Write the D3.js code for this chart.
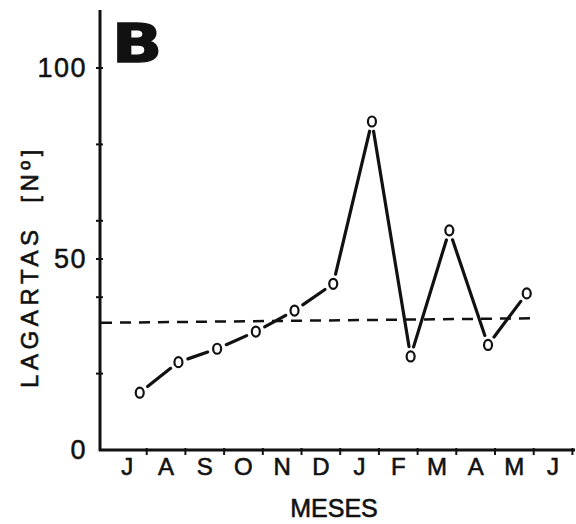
<!DOCTYPE html>
<html><head><meta charset="utf-8">
<script src="https://cdn.jsdelivr.net/npm/d3@7"></script>
<style>
html,body{margin:0;padding:0;background:#fff;}
svg{display:block;font-family:"Liberation Sans",Arial,Helvetica,sans-serif;}
</style></head>
<body>
<svg id="chart" width="576" height="524"></svg>
<script>
const months = ["J","A","S","O","N","D","J","F","M","A","M","J"];
const values = [15, 23, 26.5, 31, 36.5, 43.5, 86, 24.5, 57.5, 27.5, 41];
const meanLine = [33.3, 34.5];
const yTickLabels = [0, 50, 100];
const yMinorTicks = [20, 40, 60, 80];

const svg = d3.select("#chart");
const ink = "#111";

const y = d3.scaleLinear().domain([0, 100]).range([450, 68]);
const x = d3.scaleBand().domain(d3.range(months.length)).range([108, 572.4]).padding(0);
const bw = x.bandwidth();
const px = i => x(i) + bw * 0.82;

// axes lines
svg.append("line").attr("x1", 100).attr("x2", 100).attr("y1", 10).attr("y2", 451)
  .attr("stroke", ink).attr("stroke-width", 3);
svg.append("line").attr("x1", 99).attr("x2", 575).attr("y1", 450).attr("y2", 450)
  .attr("stroke", ink).attr("stroke-width", 3);

// y ticks
svg.selectAll(".ytick").data(yTickLabels.filter(d => d > 0).concat(yMinorTicks)).join("line")
  .attr("x1", 96).attr("x2", 103).attr("y1", d => y(d)).attr("y2", d => y(d))
  .attr("stroke", ink).attr("stroke-width", 2);

// y labels via axis
const yAxis = svg.append("g").attr("transform", "translate(87,0)")
  .call(d3.axisLeft(y).tickValues(yTickLabels).tickSize(0).tickPadding(0));
yAxis.select(".domain").remove();
yAxis.selectAll("text").attr("font-size", 27).attr("fill", ink).attr("letter-spacing", 1.5)
  .attr("stroke", ink).attr("stroke-width", 0.5)
  .attr("font-family", "'Liberation Sans',Arial,sans-serif");

// x ticks at band ends
svg.selectAll(".xtick").data(d3.range(months.length)).join("line")
  .attr("x1", i => x(i) + bw).attr("x2", i => x(i) + bw)
  .attr("y1", 448).attr("y2", 455).attr("stroke", ink).attr("stroke-width", 2);

// x labels via axis
const xAxis = svg.append("g").attr("transform", "translate(0,458)")
  .call(d3.axisBottom(x).tickFormat(i => months[i]).tickSize(0).tickPadding(0));
xAxis.select(".domain").remove();
xAxis.selectAll("text").attr("font-size", 24).attr("fill", ink)
  .attr("stroke", ink).attr("stroke-width", 0.6)
  .attr("font-family", "'Liberation Sans',Arial,sans-serif");

// axis titles
svg.append("text").attr("x", 334).attr("y", 517).attr("text-anchor", "middle")
  .attr("font-size", 25).attr("fill", ink).attr("stroke", ink).attr("stroke-width", 0.6)
  .text("MESES");
svg.append("text").attr("transform", "translate(38,388) rotate(-90)")
  .attr("text-anchor", "start").attr("font-size", 24).attr("letter-spacing", 4.6)
  .attr("fill", ink).attr("stroke", ink).attr("stroke-width", 0.6)
  .attr("xml:space", "preserve").style("white-space", "pre")
  .text("LAGARTAS  [Nº]");

// panel letter
svg.append("text").attr("transform", "translate(112,62) scale(1.22,1)").attr("font-size", 54)
  .attr("font-weight", "bold").attr("font-family", "'DejaVu Sans',sans-serif")
  .attr("fill", ink).attr("stroke", ink).attr("stroke-width", 1.5).text("B");

// dashed mean line
svg.append("line").attr("x1", 101).attr("x2", 537)
  .attr("y1", y(meanLine[0])).attr("y2", y(meanLine[1]))
  .attr("stroke", ink).attr("stroke-width", 2.5).attr("stroke-dasharray", "11,8");

// data segments with gaps near markers
const gap = 10;
const segs = d3.range(values.length - 1).map(i => {
  const x1 = px(i), y1 = y(values[i]), x2 = px(i + 1), y2 = y(values[i + 1]);
  const L = Math.hypot(x2 - x1, y2 - y1), ux = (x2 - x1) / L, uy = (y2 - y1) / L;
  return {x1: x1 + ux * gap, y1: y1 + uy * gap, x2: x2 - ux * gap, y2: y2 - uy * gap};
});
svg.selectAll(".seg").data(segs).join("line")
  .attr("x1", d => d.x1).attr("y1", d => d.y1).attr("x2", d => d.x2).attr("y2", d => d.y2)
  .attr("stroke", ink).attr("stroke-width", 3.2).attr("stroke-linecap", "round");

// markers
svg.selectAll(".pt").data(values).join("ellipse")
  .attr("cx", (d, i) => px(i)).attr("cy", d => y(d))
  .attr("rx", 4).attr("ry", 5).attr("fill", "#fff")
  .attr("stroke", ink).attr("stroke-width", 2.2);
</script>
</body></html>
